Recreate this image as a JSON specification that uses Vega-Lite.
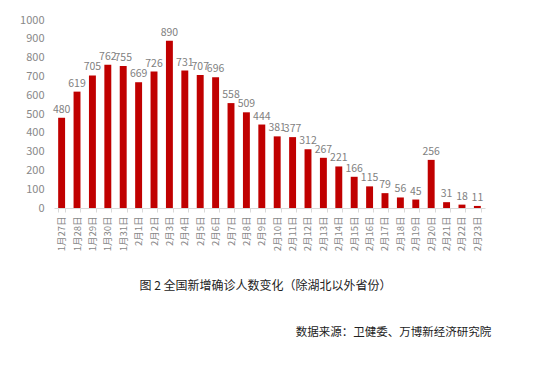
{
  "$schema": "https://vega.github.io/schema/vega-lite/v6.json",
  "autosize": {"type": "none"},
  "width": 431,
  "height": 188,
  "padding": {"left": 54, "top": 20, "right": 65, "bottom": 161},
  "background": "white",
  "config": {"view": {"stroke": null}, "font": "Noto Sans CJK SC"},
  "data": {"values": [
    {"d": "1月27日", "v": 480}, {"d": "1月28日", "v": 619}, {"d": "1月29日", "v": 705},
    {"d": "1月30日", "v": 762}, {"d": "1月31日", "v": 755}, {"d": "2月1日", "v": 669},
    {"d": "2月2日", "v": 726}, {"d": "2月3日", "v": 890}, {"d": "2月4日", "v": 731},
    {"d": "2月5日", "v": 707}, {"d": "2月6日", "v": 696}, {"d": "2月7日", "v": 558},
    {"d": "2月8日", "v": 509}, {"d": "2月9日", "v": 444}, {"d": "2月10日", "v": 381},
    {"d": "2月11日", "v": 377}, {"d": "2月12日", "v": 312}, {"d": "2月13日", "v": 267},
    {"d": "2月14日", "v": 221}, {"d": "2月15日", "v": 166}, {"d": "2月16日", "v": 115},
    {"d": "2月17日", "v": 79}, {"d": "2月18日", "v": 56}, {"d": "2月19日", "v": 45},
    {"d": "2月20日", "v": 256}, {"d": "2月21日", "v": 31}, {"d": "2月22日", "v": 18},
    {"d": "2月23日", "v": 11}
  ]},
  "encoding": {
    "x": {
      "field": "d", "type": "nominal", "sort": null,
      "scale": {"paddingInner": 0.55, "paddingOuter": 0.27},
      "axis": {
        "title": "图 2  全国新增确诊人数变化（除湖北以外省份）",
        "titleFontSize": 12, "titleFontWeight": "normal", "titleColor": "#222",
        "titleX": 211, "titleY": 77, "titleAlign": "center", "titleBaseline": "middle",
        "labelAngle": -90, "labelFontSize": 9.5, "labelColor": "#888",
        "labelPadding": 4,
        "domainColor": "#d9d9d9", "tickColor": "#d9d9d9", "tickBand": "extent", "tickSize": 4
      }
    },
    "y": {
      "field": "v", "type": "quantitative",
      "scale": {"domain": [0, 1000]},
      "axis": {
        "title": "数据来源：卫健委、万博新经济研究院",
        "titleAngle": 0, "titleFontSize": 11.5, "titleFontWeight": "normal", "titleColor": "#222",
        "titleX": 339, "titleY": 312, "titleAlign": "center", "titleBaseline": "middle",
        "values": [0,100,200,300,400,500,600,700,800,900,1000],
        "format": "d", "labelOverlap": false, "labelFlush": false,
        "grid": false, "domain": false, "ticks": false,
        "labelFontSize": 11, "labelColor": "#888", "labelPadding": 10
      }
    }
  },
  "layer": [
    {"mark": {"type": "bar", "color": "#C00000"}},
    {"mark": {"type": "text", "dy": -8, "fontSize": 10.5, "color": "#7f7f7f"},
     "encoding": {"text": {"field": "v", "type": "quantitative"}}}
  ]
}
